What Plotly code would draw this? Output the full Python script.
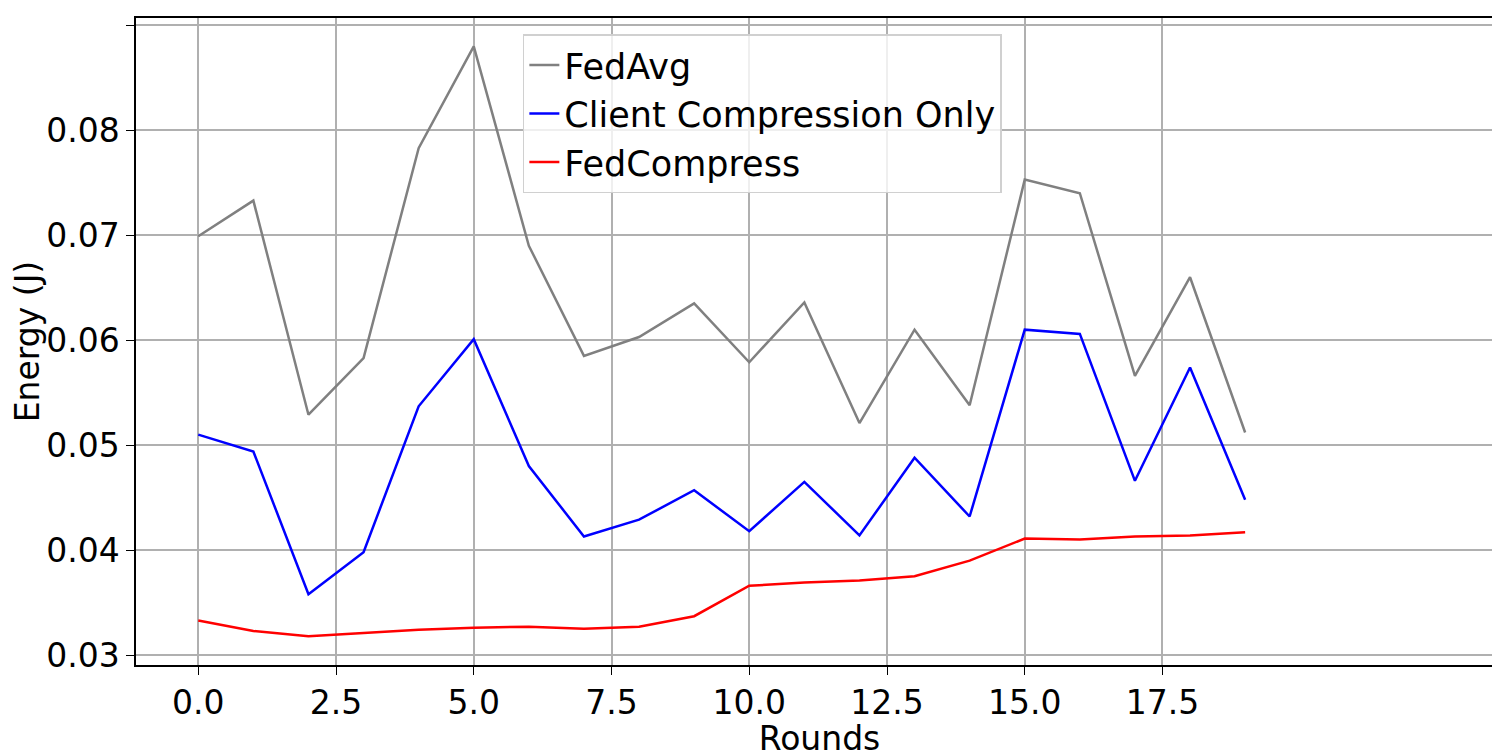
import plotly.graph_objects as go

rounds = list(range(20))
fedavg = [0.0699, 0.0733, 0.0529, 0.0583, 0.0783, 0.0880, 0.0690, 0.0585, 0.0603, 0.0635,
          0.0579, 0.0636, 0.0521, 0.0610, 0.0538, 0.0753, 0.0740, 0.0566, 0.0660, 0.0512]
client_only = [0.0510, 0.0494, 0.0358, 0.0398, 0.0537, 0.0601, 0.0480, 0.0413, 0.0429, 0.0457,
               0.0418, 0.0465, 0.0414, 0.0488, 0.0432, 0.0610, 0.0606, 0.0466, 0.0574, 0.0448]
fedcompress = [0.0333, 0.0323, 0.0318, 0.0321, 0.0324, 0.0326, 0.0327, 0.0325, 0.0327, 0.0337,
               0.0366, 0.0369, 0.0371, 0.0375, 0.0390, 0.0411, 0.0410, 0.0413, 0.0414, 0.0417]

fig = go.Figure()
fig.add_trace(go.Scatter(x=rounds, y=fedavg, mode="lines", name="FedAvg", line=dict(color="gray", width=2.5)))
fig.add_trace(go.Scatter(x=rounds, y=client_only, mode="lines", name="Client Compression Only", line=dict(color="blue", width=2.5)))
fig.add_trace(go.Scatter(x=rounds, y=fedcompress, mode="lines", name="FedCompress", line=dict(color="red", width=2.5)))

axis_common = dict(showline=True, linecolor="black", linewidth=1.5, mirror=True,
                   showgrid=True, gridcolor="#b0b0b0", gridwidth=1.5, zeroline=False,
                   ticks="outside", ticklen=8, tickcolor="black", tickfont=dict(size=33))
fig.update_layout(
    width=1500, height=750, plot_bgcolor="white", paper_bgcolor="white",
    margin=dict(l=128, r=3, t=10, b=93),
    font=dict(family="DejaVu Sans", size=33, color="black"),
    xaxis=dict(title=dict(text="Rounds", standoff=0, font=dict(size=33)), range=[-1.13, 23.68],
               tickvals=[0, 2.5, 5, 7.5, 10, 12.5, 15, 17.5],
               ticktext=["0.0", "2.5", "5.0", "7.5", "10.0", "12.5", "15.0", "17.5"], **axis_common),
    yaxis=dict(title=dict(text="Energy (J)", standoff=8, font=dict(size=33)), range=[0.02905, 0.0907],
               tickvals=[0.03, 0.04, 0.05, 0.06, 0.07, 0.08, 0.09],
               tickformat=".2f", **axis_common),
    legend=dict(x=0.283, y=0.975, xanchor="left", yanchor="top", bgcolor="rgba(255,255,255,0.8)",
                bordercolor="#d0d0d0", borderwidth=1.5, font=dict(size=35)),
)
fig.write_html("out.html")
